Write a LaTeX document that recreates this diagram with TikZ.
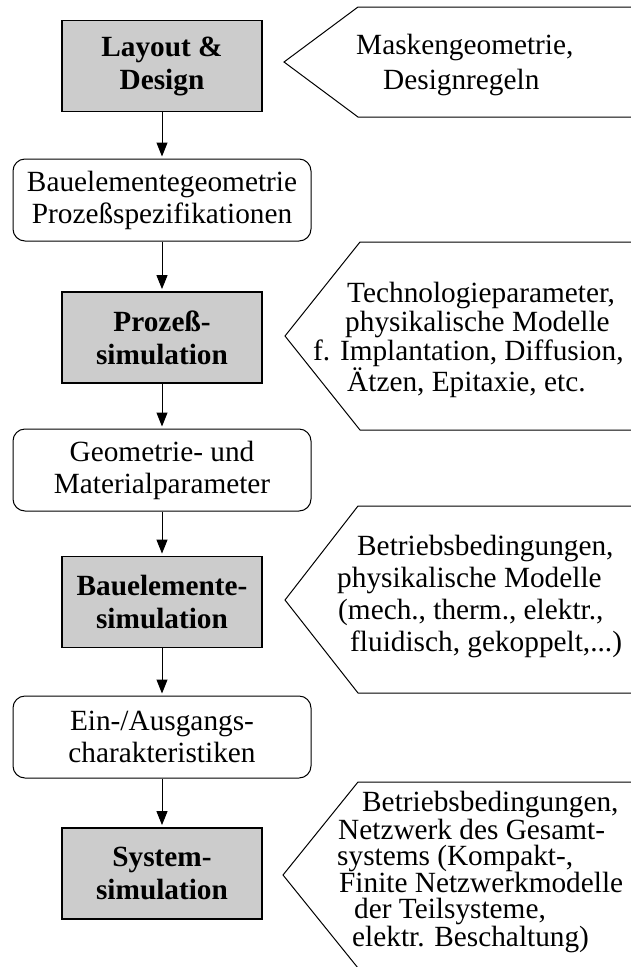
\documentclass[tikz,border=0pt]{standalone}
\usepackage{fontspec}
\setmainfont{Liberation Serif}
\usetikzlibrary{arrows.meta}
\definecolor{boxgray}{gray}{0.8}
\begin{document}
\begin{tikzpicture}[x=1pt,y=-1pt,
  graybox/.style={draw, line width=1.8pt, fill=boxgray, minimum width=200pt, minimum height=91pt, align=center, font=\fontsize{29.3}{33}\selectfont\bfseries, inner sep=0pt},
  roundbox/.style={draw, line width=1pt, rounded corners=12pt, minimum width=298pt, minimum height=82pt, align=center, font=\fontsize{29.3}{32}\selectfont, inner sep=0pt},
  pent/.style={draw, line width=1pt},
  ptext/.style={anchor=west, align=left, inner sep=0pt},
  arr/.style={-{Triangle[width=11pt,length=14pt]}, line width=1pt, shorten >=2pt}]
\useasboundingbox (0,0) rectangle (631,967);

% left column
\node[graybox] (lay) at (162,66) {Layout \&\\Design};
\node[roundbox] (rb1) at (162,200) {Bauelementegeometrie\\Prozeßspezifikationen};
\node[graybox] (proz) at (162,337.5) {Prozeß-\\simulation};
\node[roundbox] (rb2) at (162,470) {Geometrie- und\\Materialparameter};
\node[graybox] (bau) at (162,602) {Bauelemente-\\simulation};
\node[roundbox] (rb3) at (162,737) {Ein-/Ausgangs-\\charakteristiken};
\node[graybox] (sys) at (162,873.5) {System-\\simulation};

\draw[arr] (lay.south) -- (rb1.north);
\draw[arr] (rb1.south) -- (proz.north);
\draw[arr] (proz.south) -- (rb2.north);
\draw[arr] (rb2.south) -- (bau.north);
\draw[arr] (bau.south) -- (rb3.north);
\draw[arr] (rb3.south) -- (sys.north);

% pentagons
\draw[pent] (632,7) -- (358,7) -- (284,62) -- (358,117) -- (632,117);
\draw[pent] (632,242) -- (360,242) -- (285,336) -- (360,430) -- (632,430);
\draw[pent] (632,506) -- (358,506) -- (285,600) -- (358,693) -- (632,693);
\draw[pent] (632,782) -- (358,782) -- (283,875) -- (358,968) -- (632,968);

\node[ptext, font=\fontsize{29.3}{35}\selectfont] (t1) at (356,64.5)
  {Maskengeometrie,\\\hspace*{27pt}Designregeln};
\node[ptext, font=\fontsize{29.3}{29}\selectfont] (t2) at (313,339.5)
  {\hspace*{34pt}Technologieparameter,\\\hspace*{32pt}physikalische Modelle\\f. Implantation, Diffusion,\\\hspace*{34pt}Ätzen, Epitaxie, etc.};
\node[ptext, font=\fontsize{29.3}{32}\selectfont] (t3) at (337,596)
  {\hspace*{20pt}Betriebsbedingungen,\\physikalische Modelle\\\hspace*{1pt}(mech., therm., elektr.,\\\hspace*{13pt}fluidisch, gekoppelt,...)};
\node[ptext, font=\fontsize{29.3}{26}\selectfont] (t4) at (337,872)
  {\hspace*{25pt}Betriebsbedingungen,\\\hspace*{1pt}Netzwerk des Gesamt-\\systems (Kompakt-,\\\hspace*{2pt}Finite Netzwerkmodelle\\\hspace*{17pt}der Teilsysteme,\\\hspace*{15pt}elektr. Beschaltung)};
\end{tikzpicture}
\end{document}
